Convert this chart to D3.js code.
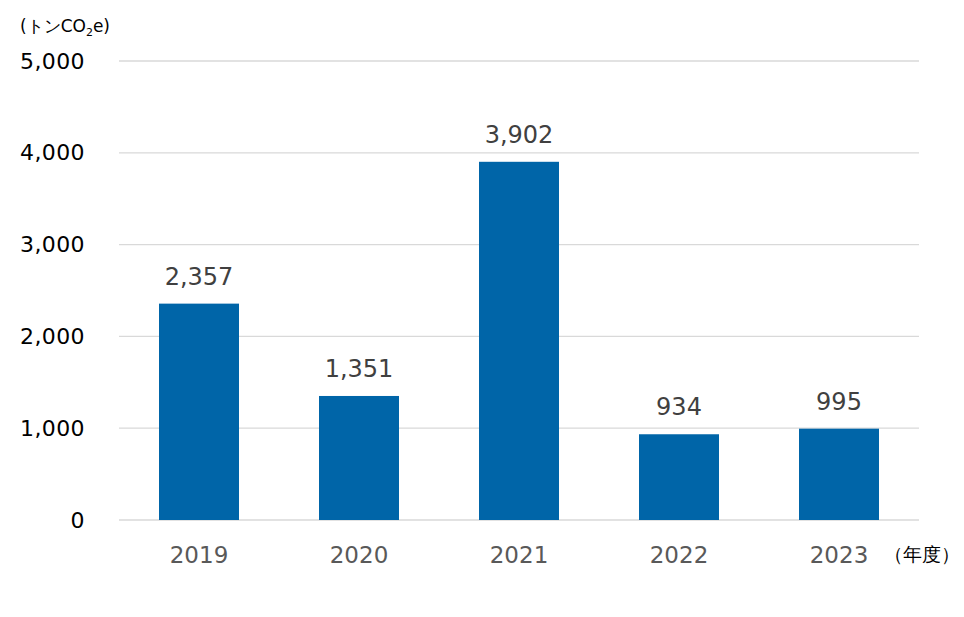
<!DOCTYPE html>
<html>
<head>
<meta charset="utf-8">
<script src="https://cdn.jsdelivr.net/npm/d3@7"></script>
<style>
  body { margin: 0; background: #fff; }
  text { font-family: "DejaVu Sans", Verdana, sans-serif; }
</style>
</head>
<body>
<svg width="964" height="617"></svg>
<script>
const years = ["2019", "2020", "2021", "2022", "2023"];
const emissions = [2357, 1351, 3902, 934, 995];
const yTicks = [0, 1000, 2000, 3000, 4000, 5000];

const svg = d3.select("svg");
const margin = {left: 119, right: 45, top: 61, bottom: 97};
const width = 964 - margin.left - margin.right;
const height = 617 - margin.top - margin.bottom;
const g = svg.append("g").attr("transform", `translate(${margin.left},${margin.top})`);

const x = d3.scaleBand().domain(years).range([0, width]).paddingInner(0.5).paddingOuter(0.25);
const y = d3.scaleLinear().domain([0, 5000]).range([height, 0]);
const fmt = d3.format(",");

// gridlines
g.selectAll(".grid").data(yTicks).enter().append("line")
  .attr("x1", 0).attr("x2", width)
  .attr("y1", d => y(d)).attr("y2", d => y(d))
  .attr("stroke", "#d9d9d9").attr("stroke-width", 1.3);

// y axis labels
const yAxis = g.append("g").call(d3.axisLeft(y).tickValues(yTicks).tickFormat(fmt).tickSize(0).tickPadding(34));
yAxis.select(".domain").remove();
yAxis.selectAll("text").attr("font-size", 22).attr("fill", "#000")
  .attr("font-family", "DejaVu Sans").attr("letter-spacing", 0.4);

// x axis labels
const xAxis = g.append("g").attr("transform", `translate(0,${height})`)
  .call(d3.axisBottom(x).tickSize(0).tickPadding(27));
xAxis.select(".domain").remove();
xAxis.selectAll("text").attr("font-size", 23).attr("fill", "#595959").attr("font-family", "DejaVu Sans");

// bars
g.selectAll(".bar").data(emissions).enter().append("rect")
  .attr("x", (d, i) => x(years[i]))
  .attr("width", x.bandwidth())
  .attr("y", d => y(d))
  .attr("height", d => height - y(d))
  .attr("fill", "#0065a8");

// value labels
g.selectAll(".val").data(emissions).enter().append("text")
  .attr("x", (d, i) => x(years[i]) + x.bandwidth() / 2)
  .attr("y", d => y(d) - 19)
  .attr("text-anchor", "middle")
  .attr("font-size", 24)
  .attr("fill", "#404040")
  .text(d => fmt(d));

// unit label
const unit = svg.append("text").attr("x", 20).attr("y", 32).attr("font-size", 17).attr("fill", "#000");
unit.append("tspan").text("(トンCO");
unit.append("tspan").attr("font-size", 11).attr("dy", 4).text("2");
unit.append("tspan").attr("dy", -4).text("e)");

// x unit label
svg.append("text").attr("x", 884).attr("y", 561).attr("font-size", 19).attr("fill", "#000")
  .attr("font-family", "Noto Sans CJK JP").text("（年度）");
</script>
</body>
</html>
